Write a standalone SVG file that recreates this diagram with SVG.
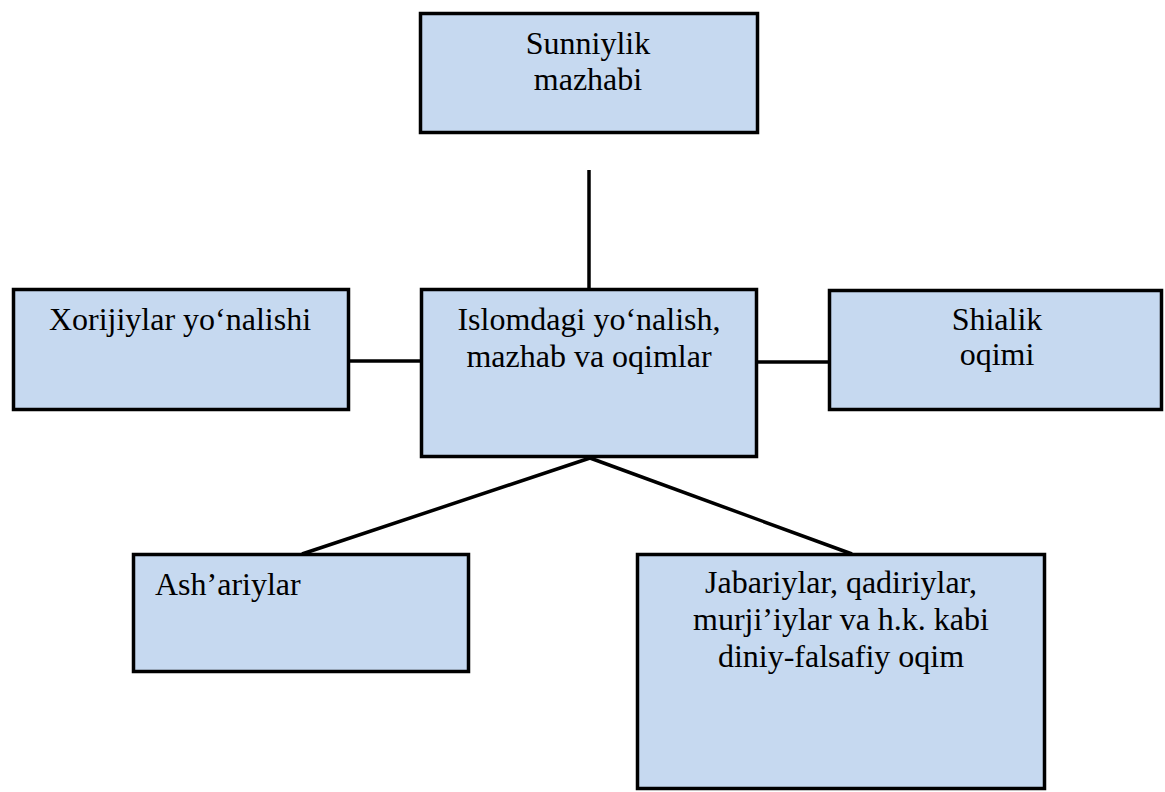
<svg xmlns="http://www.w3.org/2000/svg" width="1165" height="792" viewBox="0 0 1165 792">
<style>
.box{fill:#c6d9f0;stroke:#000;stroke-width:3.5}
.lbl{font-family:'Liberation Serif','Times New Roman',Times,'DejaVu Serif',serif;font-size:32px;fill:#000}
.c{text-anchor:middle}
.conn{stroke:#000;stroke-width:3.5;fill:none}
</style>
<rect width="1165" height="792" fill="#fff"/>
<g id="connectors">
<line class="conn" x1="589" y1="170" x2="589" y2="289"/>
<line class="conn" x1="350" y1="361" x2="421" y2="361"/>
<line class="conn" x1="757" y1="362" x2="829" y2="362"/>
<line class="conn" x1="590" y1="458" x2="302" y2="554"/>
<line class="conn" x1="590" y1="458" x2="852" y2="554"/>
</g>
<g id="sunniylik">
<rect class="box" x="420.5" y="13.5" width="337" height="119"/>
<text class="lbl c" x="588" y="54" font-family="Liberation Serif, serif">Sunniylik</text>
<text class="lbl c" x="588" y="90" font-family="Liberation Serif, serif">mazhabi</text>
</g>
<g id="xorijiylar">
<rect class="box" x="13.5" y="289.5" width="335" height="120"/>
<text class="lbl c" x="180" y="330">Xorijiylar yo‘nalishi</text>
</g>
<g id="center">
<rect class="box" x="421.5" y="289.5" width="335" height="167"/>
<text class="lbl c" x="589" y="330">Islomdagi yo‘nalish,</text>
<text class="lbl c" x="589" y="367">mazhab va oqimlar</text>
</g>
<g id="shialik">
<rect class="box" x="829.5" y="290.5" width="332" height="119"/>
<text class="lbl c" x="997" y="330">Shialik</text>
<text class="lbl c" x="997" y="365">oqimi</text>
</g>
<g id="ashariylar">
<rect class="box" x="133.5" y="554.5" width="335" height="117"/>
<text class="lbl" x="155" y="595">Ash’ariylar</text>
</g>
<g id="jabariylar">
<rect class="box" x="637.5" y="554.5" width="407" height="234"/>
<text class="lbl c" x="841" y="593">Jabariylar, qadiriylar,</text>
<text class="lbl c" x="841" y="630">murji’iylar va h.k. kabi</text>
<text class="lbl c" x="841" y="667">diniy-falsafiy oqim</text>
</g>
</svg>
